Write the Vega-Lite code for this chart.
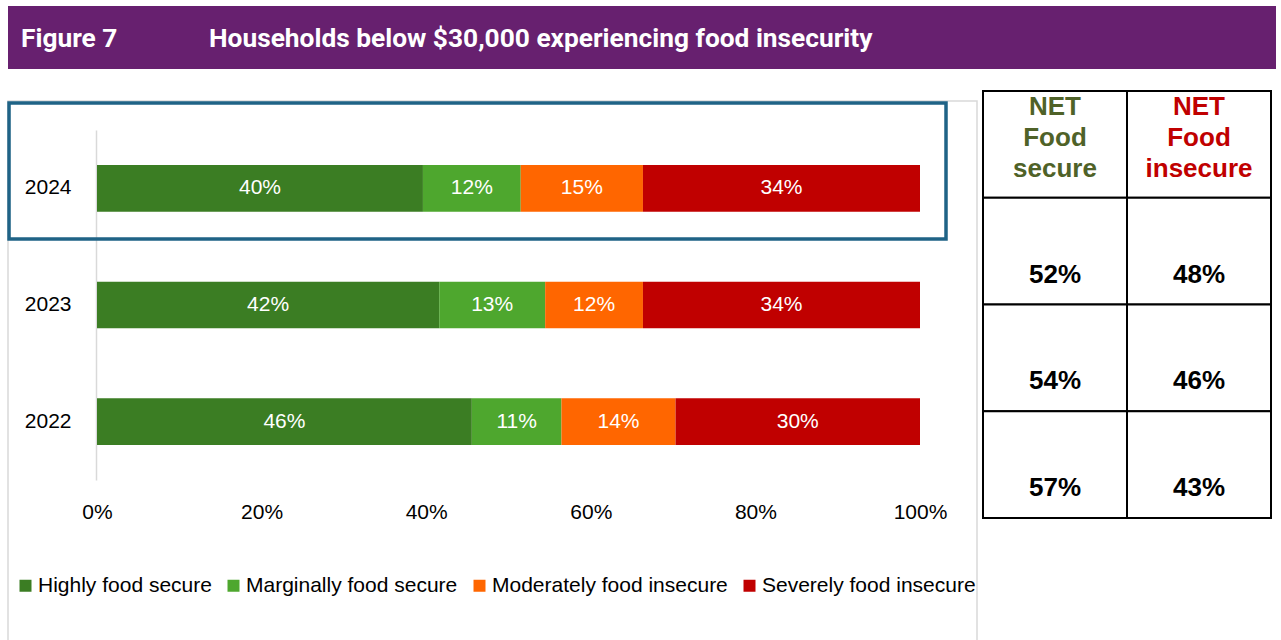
{
  "$schema": "https://vega.github.io/schema/vega-lite/v6.json",
  "background": "white",
  "padding": {"left": 6, "top": 6, "right": 0, "bottom": 0},
  "bounds": "flush",
  "spacing": 32,
  "config": {"view": {"stroke": null}, "font": "Liberation Sans"},
  "datasets": {
    "header": [
      {"label": "Figure 7"},
      {"label": "Households below $30,000 experiencing food insecurity"}
    ],
    "bars": [
      {"year": "2024", "cat": "Highly food secure", "value": 0.40},
      {"year": "2024", "cat": "Marginally food secure", "value": 0.12},
      {"year": "2024", "cat": "Moderately food insecure", "value": 0.15},
      {"year": "2024", "cat": "Severely food insecure", "value": 0.34},
      {"year": "2023", "cat": "Highly food secure", "value": 0.42},
      {"year": "2023", "cat": "Marginally food secure", "value": 0.13},
      {"year": "2023", "cat": "Moderately food insecure", "value": 0.12},
      {"year": "2023", "cat": "Severely food insecure", "value": 0.34},
      {"year": "2022", "cat": "Highly food secure", "value": 0.46},
      {"year": "2022", "cat": "Marginally food secure", "value": 0.11},
      {"year": "2022", "cat": "Moderately food insecure", "value": 0.14},
      {"year": "2022", "cat": "Severely food insecure", "value": 0.30}
    ],
    "table": [
      {"row": "head", "col": "secure", "label": "NET\nFood\nsecure"},
      {"row": "head", "col": "insecure", "label": "NET\nFood\ninsecure"},
      {"row": "2024", "col": "secure", "label": "52%"},
      {"row": "2024", "col": "insecure", "label": "48%"},
      {"row": "2023", "col": "secure", "label": "54%"},
      {"row": "2023", "col": "insecure", "label": "46%"},
      {"row": "2022", "col": "secure", "label": "57%"},
      {"row": "2022", "col": "insecure", "label": "43%"}
    ]
  },
  "vconcat": [
    {
      "width": 1268,
      "height": 63,
      "view": {"fill": "#67206F", "stroke": null},
      "data": {"name": "header"},
      "mark": {"type": "text", "align": "left", "baseline": "middle", "dy": 1.5, "font": "Roboto", "fontWeight": "bold", "fontSize": 26.3, "color": "white"},
      "encoding": {
        "x": {"field": "label", "type": "nominal", "sort": null, "axis": null, "bandPosition": 0,
              "scale": {"type": "band", "range": [13, 389], "paddingInner": 0, "paddingOuter": 0}},
        "text": {"field": "label"}
      }
    },
    {
      "hconcat": [
        {
          "width": 969,
          "height": 540,
          "view": {"stroke": "#D9D9D9", "strokeWidth": 1.5},
          "data": {"name": "bars"},
          "layer": [
            {
              "mark": {"type": "bar"},
              "encoding": {
                "x": {"field": "value", "type": "quantitative", "stack": "normalize",
                      "scale": {"domain": [0, 1], "range": [89, 912]},
                      "axis": {"orient": "bottom", "offset": -129, "domain": false, "ticks": false, "grid": false,
                               "labelPadding": 0, "labelBaseline": "middle", "format": ".0%",
                               "values": [0, 0.2, 0.4, 0.6, 0.8, 1], "labelFontSize": 21, "labelColor": "#000000",
                               "labelFlush": false, "labelOverlap": false, "title": null}},
                "y": {"field": "year", "type": "nominal",
                      "scale": {"domain": ["2024", "2023", "2022"], "range": [29, 379], "paddingInner": 0.6, "paddingOuter": 0.3},
                      "axis": {"orient": "left", "offset": -88, "domainColor": "#D9D9D9", "domainWidth": 1.5,
                               "ticks": false, "grid": false, "labelPadding": 25, "labelFontSize": 21,
                               "labelColor": "#000000", "title": null}},
                "order": {"field": "cat"},
                "color": {"field": "cat", "type": "nominal",
                          "scale": {"domain": ["Highly food secure", "Marginally food secure", "Moderately food insecure", "Severely food insecure"],
                                    "range": ["#3B7D23", "#4EA72E", "#FF6600", "#C00000"]},
                          "legend": {"orient": "none", "legendX": 7, "legendY": 569, "direction": "horizontal",
                                     "title": null, "symbolType": "square", "symbolSize": 144, "symbolStrokeWidth": 0,
                                     "labelFontSize": 21, "labelColor": "#000000", "labelOffset": 2,
                                     "columnPadding": 11, "labelLimit": 400, "padding": 0}}
              }
            },
            {
              "mark": {"type": "text", "color": "white", "fontSize": 21, "baseline": "middle"},
              "encoding": {
                "x": {"field": "value", "type": "quantitative", "stack": "normalize", "bandPosition": 0.5},
                "y": {"field": "year", "type": "nominal"},
                "detail": {"field": "cat"},
                "order": {"field": "cat"},
                "text": {"field": "value", "type": "quantitative", "format": ".0%"}
              }
            },
            {
              "data": {"values": [{}]},
              "mark": {"type": "rect", "filled": false, "stroke": "#1F6386", "strokeWidth": 3.5,
                       "height": {"band": 2.914}, "yOffset": -17.3},
              "encoding": {
                "x": {"datum": -0.1069},
                "x2": {"datum": 1.0316},
                "y": {"datum": "2024"}
              }
            }
          ]
        },
        {
          "width": 288,
          "height": 417,
          "data": {"name": "table"},
          "encoding": {
            "x": {"field": "col", "type": "nominal", "axis": null,
                  "scale": {"domain": ["secure", "insecure"], "paddingInner": 0, "paddingOuter": 0}},
            "y": {"field": "row", "type": "nominal", "axis": null,
                  "scale": {"domain": ["head", "2024", "2023", "2022"], "range": [-10, 417], "paddingInner": 0, "paddingOuter": 0}}
          },
          "layer": [
            {"mark": {"type": "rect", "fill": "white", "stroke": "black", "strokeWidth": 2}},
            {
              "transform": [{"filter": "datum.row == 'head' && datum.col == 'secure'"}],
              "mark": {"type": "text", "fontWeight": "bold", "fontSize": 26, "lineBreak": "\n", "lineHeight": 31, "baseline": "middle", "color": "#4F6228"},
              "encoding": {
                "y": {"field": "row", "type": "nominal", "bandPosition": 0.15},
                "text": {"field": "label"}
              }
            },
            {
              "transform": [{"filter": "datum.row == 'head' && datum.col == 'insecure'"}],
              "mark": {"type": "text", "fontWeight": "bold", "fontSize": 26, "lineBreak": "\n", "lineHeight": 31, "baseline": "middle", "color": "#C00000"},
              "encoding": {
                "y": {"field": "row", "type": "nominal", "bandPosition": 0.15},
                "text": {"field": "label"}
              }
            },
            {
              "transform": [{"filter": "datum.row != 'head'"}],
              "mark": {"type": "text", "fontWeight": "bold", "fontSize": 26, "baseline": "middle", "color": "black"},
              "encoding": {
                "y": {"field": "row", "type": "nominal", "bandPosition": 0.72},
                "text": {"field": "label"}
              }
            }
          ]
        }
      ],
      "spacing": 6,
      "bounds": "flush"
    }
  ]
}
